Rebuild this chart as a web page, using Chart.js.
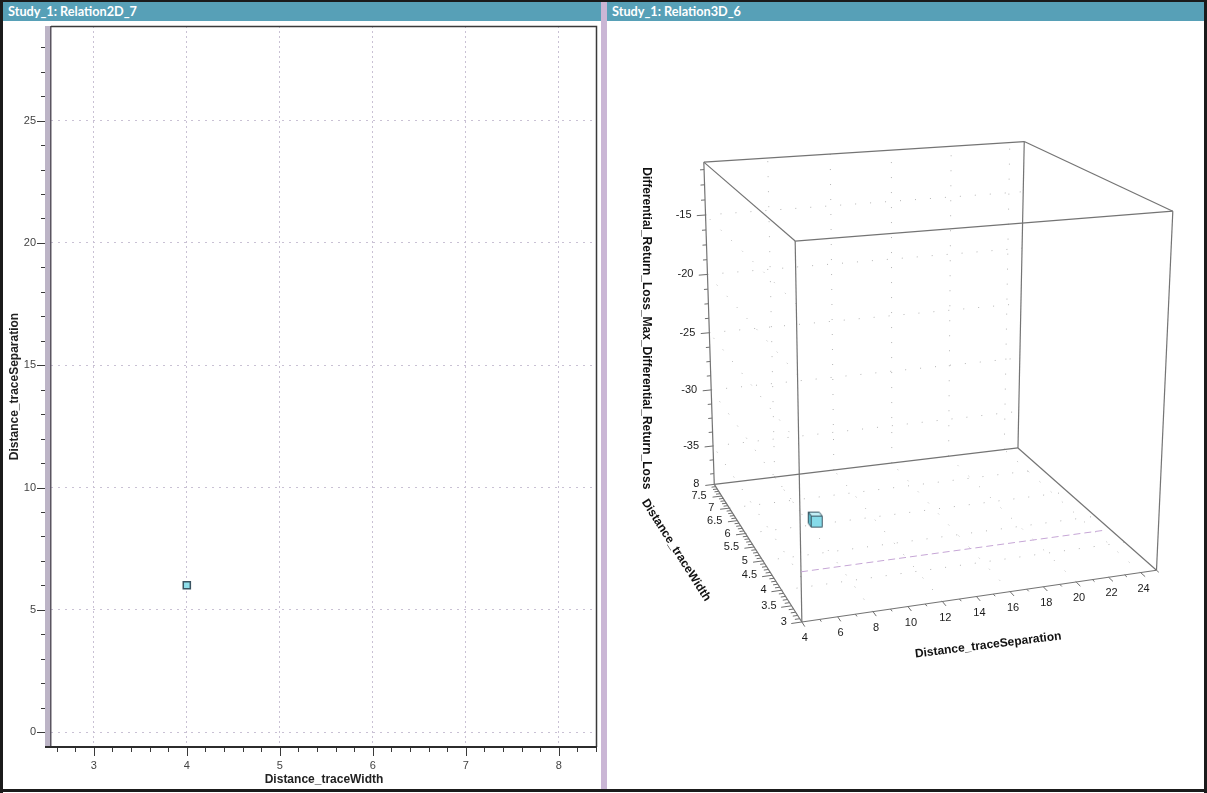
<!DOCTYPE html>
<html>
<head>
<meta charset="utf-8">
<title>Study_1 relations</title>
<script src="https://cdn.jsdelivr.net/npm/chart.js@4.4.1/dist/chart.umd.min.js"></script>
<style>
  html, body { margin: 0; padding: 0; background: #ffffff; }
  #frame { position: absolute; left: 0; top: 0; width: 1207px; height: 793px; background: #ffffff; overflow: hidden; }
  .edge { position: absolute; background: #1b1b1b; }
  .bar { position: absolute; top: 2px; height: 19px; background: #57a0b7; color: #ffffff;
         font: bold 12.7px Lato, "Liberation Sans", sans-serif; line-height: 19px;
         box-sizing: border-box; padding-left: 5px; white-space: nowrap; }
  #divider { position: absolute; left: 601px; top: 2px; width: 6px; height: 787px; background: #cab6d5; }
  .panel { position: absolute; top: 21px; height: 768px; }
  .panel canvas { display: block; }
</style>
</head>
<body>
<div id="frame">
  <div class="bar" style="left:3px;width:598px;">Study_1: Relation2D_7</div>
  <div class="bar" style="left:607px;width:597px;">Study_1: Relation3D_6</div>
  <div id="divider"></div>
  <div class="panel" style="left:3px;width:598px;"><canvas id="rel2d" width="598" height="768"></canvas></div>
  <div class="panel" style="left:607px;width:597px;"><canvas id="rel3d" width="597" height="768"></canvas></div>
  <div class="edge" style="left:0;top:0;width:1207px;height:2px;"></div>
  <div class="edge" style="left:0;top:0;width:3px;height:793px;"></div>
  <div class="edge" style="left:1204px;top:0;width:3px;height:793px;"></div>
  <div class="edge" style="left:0;top:789px;width:1207px;height:3px;"></div>
</div>
<script>
// ---- Relation2D_7 : Distance_traceWidth vs Distance_traceSeparation ----
const traceWidth = [4];
const traceSeparation = [6];
const widthTicks2d = [3, 4, 5, 6, 7, 8];
const separationTicks2d = [0, 5, 10, 15, 20, 25];
const widthRange2d = [2.54, 8.41];
const separationRange2d = [-0.61, 28.87];

// ---- Relation3D_6 : traceSeparation x traceWidth x return loss ----
const returnLoss = [-33.2];
const separationRange3d = [4, 25];
const widthRange3d = [3, 8];
const returnLossRange3d = [-38.48, -10.64];
const separationTicks3d = [4, 6, 8, 10, 12, 14, 16, 18, 20, 22, 24];
const widthTicks3d = [3, 3.5, 4, 4.5, 5, 5.5, 6, 6.5, 7, 7.5, 8];
const returnLossTicks3d = [-35, -30, -25, -20, -15];
const floorGridWidths = [4, 5, 6, 7];
const wallGridSeparations = [8, 12, 16, 20, 24];
// highlighted level line on the front face
const levelLine = { separation: [4, 21.7], width: 3, loss: -34.6 };

const FONT = '"Liberation Sans", Arial, sans-serif';

// ================= 2D scatter =================
const axes2d = {
  id: 'axes2d',
  afterDraw(chart) {
    const { ctx, chartArea: a, scales: { x, y } } = chart;
    ctx.save();
    // left axis bar
    ctx.fillStyle = '#bcb4c6';
    ctx.fillRect(a.left - 6, a.top, 6, a.bottom - a.top + 1);
    ctx.fillStyle = '#5a5560';
    ctx.fillRect(a.left - 1, a.top, 1.5, a.bottom - a.top);
    // top and right frame
    ctx.strokeStyle = '#3a3a3a';
    ctx.lineWidth = 1.5;
    ctx.beginPath();
    ctx.moveTo(a.left, a.top + 0.5);
    ctx.lineTo(a.right - 0.5, a.top + 0.5);
    ctx.lineTo(a.right - 0.5, a.bottom);
    ctx.stroke();
    // bottom axis line
    ctx.fillStyle = '#2c2c2c';
    ctx.fillRect(a.left - 6, a.bottom - 1, a.right - a.left + 6, 2);

    ctx.strokeStyle = '#3a3a3a';
    ctx.lineWidth = 1;
    // y ticks, every unit
    for (let v = Math.ceil(y.min); v <= y.max; v++) {
      const py = Math.round(y.getPixelForValue(v)) + 0.5;
      const major = separationTicks2d.includes(v);
      ctx.beginPath();
      ctx.moveTo(a.left - 6 - (major ? 8 : 4), py);
      ctx.lineTo(a.left - 6, py);
      ctx.stroke();
    }
    // x ticks, every 0.2
    for (let k = Math.ceil(x.min * 5); k <= x.max * 5; k++) {
      const v = k / 5;
      const px = Math.round(x.getPixelForValue(v)) + 0.5;
      const major = k % 5 === 0;
      ctx.beginPath();
      ctx.moveTo(px, a.bottom + 1);
      ctx.lineTo(px, a.bottom + 1 + (major ? 8 : 4));
      ctx.stroke();
    }
    // tick labels
    ctx.fillStyle = '#444444';
    ctx.font = '11px ' + FONT;
    ctx.textAlign = 'right';
    ctx.textBaseline = 'middle';
    separationTicks2d.forEach(v => ctx.fillText(String(v), a.left - 15, y.getPixelForValue(v)));
    ctx.textAlign = 'center';
    widthTicks2d.forEach(v => ctx.fillText(String(v), x.getPixelForValue(v), a.bottom + 19));
    // axis titles
    ctx.fillStyle = '#222222';
    ctx.font = 'bold 12px ' + FONT;
    ctx.fillText('Distance_traceWidth', (a.left + a.right) / 2, a.bottom + 33);
    ctx.translate(12, (a.top + a.bottom) / 2);
    ctx.rotate(-Math.PI / 2);
    ctx.fillText('Distance_traceSeparation', 0, 0);
    ctx.restore();
  }
};

new Chart(document.getElementById('rel2d'), {
  type: 'scatter',
  data: {
    datasets: [{
      label: 'Relation2D_7',
      data: traceWidth.map((w, i) => ({ x: w, y: traceSeparation[i] })),
      pointStyle: 'rect',
      pointRadius: 5,
      backgroundColor: '#8fdfeb',
      borderColor: '#3b5462',
      borderWidth: 1.5
    }]
  },
  options: {
    responsive: false,
    animation: false,
    events: [],
    layout: { autoPadding: false, padding: { left: 48, right: 4, top: 5, bottom: 42 } },
    plugins: { legend: { display: false }, tooltip: { enabled: false } },
    scales: {
      x: {
        type: 'linear', min: widthRange2d[0], max: widthRange2d[1],
        afterBuildTicks: s => { s.ticks = widthTicks2d.map(v => ({ value: v })); },
        ticks: { display: false },
        grid: { color: '#c9c1d4', lineWidth: 1, drawTicks: false },
        border: { display: false, dash: [2, 3] }
      },
      y: {
        type: 'linear', min: separationRange2d[0], max: separationRange2d[1],
        afterBuildTicks: s => { s.ticks = separationTicks2d.map(v => ({ value: v })); },
        ticks: { display: false },
        grid: { color: '#c9c1d4', lineWidth: 1, drawTicks: false },
        border: { display: false, dash: [2, 5] }
      }
    }
  },
  plugins: [axes2d]
});

// ================= 3D relation =================
// perspective camera, box normalised to a unit cube centred at the origin
const camera = { yaw: 18.5, pitch: 17, eye: [-1.586, -4.535, 1.533], focal: 1796, cx: 293, cy: 317 };
const rad = Math.PI / 180;
const viewDir = [Math.sin(camera.yaw * rad), Math.cos(camera.yaw * rad), 0];
const camRight = [Math.cos(camera.yaw * rad), -Math.sin(camera.yaw * rad), 0];
const cp = Math.cos(camera.pitch * rad), sp = Math.sin(camera.pitch * rad);
const camFwd = [cp * viewDir[0], cp * viewDir[1], -sp];
const camUp = [sp * viewDir[0], sp * viewDir[1], cp];
const dot = (a, b) => a[0] * b[0] + a[1] * b[1] + a[2] * b[2];
const ranges3d = [separationRange3d, widthRange3d, returnLossRange3d];

function toBox(s, w, z) {
  return [s, w, z].map((v, i) => (v - ranges3d[i][0]) / (ranges3d[i][1] - ranges3d[i][0]) - 0.5);
}
function projectBox(p) {
  const q = [p[0] - camera.eye[0], p[1] - camera.eye[1], p[2] - camera.eye[2]];
  const depth = dot(q, camFwd);
  return { x: dot(q, camRight) / depth, y: dot(q, camUp) / depth };
}
const project = (s, w, z) => projectBox(toBox(s, w, z));

function segment(p, q, style) {
  return Object.assign({ data: [project(...p), project(...q)], showLine: true, pointRadius: 0,
    fill: false, tension: 0 }, style);
}

const [sMin, sMax] = separationRange3d, [wMin, wMax] = widthRange3d, [zMin, zMax] = returnLossRange3d;
const datasets3d = [];

// the data point, drawn as a small shaded cube
function cubeGlyph() {
  const c = document.createElement('canvas');
  c.width = 17; c.height = 18;
  const g = c.getContext('2d');
  g.lineWidth = 1;
  g.strokeStyle = '#3a5663';
  const face = (pts, fill) => {
    g.beginPath();
    g.moveTo(pts[0][0], pts[0][1]);
    pts.slice(1).forEach(p => g.lineTo(p[0], p[1]));
    g.closePath();
    g.fillStyle = fill;
    g.fill();
    g.stroke();
  };
  face([[4.5, 5.5], [1.5, 1.5], [12.5, 1.5], [15.5, 5.5]], '#c2eff6');
  face([[4.5, 5.5], [1.5, 1.5], [1.5, 12.5], [4.5, 16.5]], '#5fbccc');
  face([[4.5, 5.5], [15.5, 5.5], [15.5, 16.5], [4.5, 16.5]], '#86dbe9');
  return c;
}
datasets3d.push({
  label: 'Relation3D_6',
  data: traceSeparation.map((s, i) => project(s, traceWidth[i], returnLoss[i])),
  pointStyle: cubeGlyph(),
  pointRadius: 8,
  showLine: false,
  order: 0
});

// box edges
const edgeStyle = { borderColor: '#747474', borderWidth: 1.2, order: 2 };
for (let axis = 0; axis < 3; axis++) {
  const others = [0, 1, 2].filter(a => a !== axis);
  for (let i = 0; i < 2; i++) {
    for (let j = 0; j < 2; j++) {
      const p = [], q = [];
      p[axis] = ranges3d[axis][0];
      q[axis] = ranges3d[axis][1];
      p[others[0]] = q[others[0]] = ranges3d[others[0]][i];
      p[others[1]] = q[others[1]] = ranges3d[others[1]][j];
      datasets3d.push(segment(p, q, edgeStyle));
    }
  }
}

// sparse dotted grids on the back walls and the floor
const gridStyle = { borderColor: '#b4b4b4', borderWidth: 1, borderDash: [1, 14], order: 3 };
returnLossTicks3d.forEach(z => {
  datasets3d.push(segment([sMin, wMin, z], [sMin, wMax, z], gridStyle));
  datasets3d.push(segment([sMin, wMax, z], [sMax, wMax, z], gridStyle));
});
floorGridWidths.forEach(w => {
  datasets3d.push(segment([sMin, w, zMin], [sMax, w, zMin], gridStyle));
});
wallGridSeparations.forEach(s => {
  datasets3d.push(segment([s, wMin, zMin], [s, wMax, zMin], gridStyle));
  datasets3d.push(segment([s, wMax, zMin], [s, wMax, zMax], gridStyle));
});
datasets3d.push(segment(
  [levelLine.separation[0], levelLine.width, levelLine.loss],
  [levelLine.separation[1], levelLine.width, levelLine.loss],
  { borderColor: '#c6a6d6', borderWidth: 1, borderDash: [7, 4], order: 1 }));

const axes3d = {
  id: 'axes3d',
  afterDraw(chart) {
    const { ctx, scales: { x, y } } = chart;
    const px = p => [x.getPixelForValue(p.x), y.getPixelForValue(p.y)];
    const at = (s, w, z) => px(project(s, w, z));
    const tickAt = (boxPt, dir, len) => {
      const a = px(projectBox(boxPt));
      const b = px(projectBox([boxPt[0] + dir[0] * len, boxPt[1] + dir[1] * len, boxPt[2] + dir[2] * len]));
      ctx.beginPath();
      ctx.moveTo(a[0], a[1]);
      ctx.lineTo(b[0], b[1]);
      ctx.stroke();
      return a;
    };
    ctx.save();
    ctx.strokeStyle = '#6e6e6e';
    ctx.lineWidth = 1;
    // separation ticks (front bottom edge)
    for (let s = sMin; s <= sMax; s++) {
      tickAt(toBox(s, wMin, zMin), [0, -1, 0], separationTicks3d.includes(s) ? 0.028 : 0.014);
    }
    // width ticks (left bottom edge)
    for (let k = wMin * 10; k <= wMax * 10; k++) {
      tickAt(toBox(sMin, k / 10, zMin), [-1, 0, 0], k % 5 === 0 ? 0.028 : 0.013);
    }
    // loss ticks (back left vertical edge)
    for (let k = Math.ceil(zMin / 1.25); k * 1.25 <= zMax; k++) {
      const z = k * 1.25;
      tickAt(toBox(sMin, wMax, z), [-1, 0, 0], z % 5 === 0 ? 0.026 : 0.012);
    }

    ctx.fillStyle = '#1c1c1c';
    ctx.font = '11px ' + FONT;
    ctx.textBaseline = 'middle';
    ctx.textAlign = 'center';
    separationTicks3d.forEach(s => { const p = at(s, wMin, zMin); ctx.fillText(String(s), p[0] + 3, p[1] + 16); });
    ctx.textAlign = 'right';
    widthTicks3d.forEach(w => { const p = at(sMin, w, zMin); ctx.fillText(String(w), p[0] - 15, p[1]); });
    returnLossTicks3d.forEach(z => { const p = at(sMin, wMax, z); ctx.fillText(String(z), p[0] - 14, p[1]); });

    // axis titles
    ctx.fillStyle = '#111111';
    ctx.textAlign = 'center';
    const title = (text, font, cxp, cyp, angle) => {
      ctx.save();
      ctx.font = font;
      ctx.translate(cxp, cyp);
      ctx.rotate(angle);
      ctx.fillText(text, 0, 0);
      ctx.restore();
    };
    const s0 = at(sMin, wMin, zMin), s1 = at(sMax, wMin, zMin);
    title('Distance_traceSeparation', 'bold 12px ' + FONT,
      (s0[0] + s1[0]) / 2 + 9, (s0[1] + s1[1]) / 2 + 49, Math.atan2(s1[1] - s0[1], s1[0] - s0[0]) * 0.85);
    const w0 = at(sMin, wMax, zMin), w1 = at(sMin, wMin, zMin);
    title('Distance_traceWidth', 'bold 12px ' + FONT,
      (w0[0] + w1[0]) / 2 - 82, (w0[1] + w1[1]) / 2 - 3, Math.atan2(w1[1] - w0[1], w1[0] - w0[0]));
    const z0 = at(sMin, wMax, zMin), z1 = at(sMin, wMax, zMax);
    title('Differential_Return_Loss_Max_Differential_Return_Loss', 'bold 12px ' + FONT,
      (z0[0] + z1[0]) / 2 - 63, (z0[1] + z1[1]) / 2 + 5, Math.PI / 2);
    ctx.restore();
  }
};

const canvas3d = document.getElementById('rel3d');
new Chart(canvas3d, {
  type: 'scatter',
  data: { datasets: datasets3d },
  options: {
    responsive: false,
    animation: false,
    events: [],
    layout: { autoPadding: false, padding: 0 },
    plugins: { legend: { display: false }, tooltip: { enabled: false } },
    scales: {
      x: { type: 'linear', display: false,
           min: -camera.cx / camera.focal, max: (canvas3d.width - camera.cx) / camera.focal },
      y: { type: 'linear', display: false,
           min: -(canvas3d.height - camera.cy) / camera.focal, max: camera.cy / camera.focal }
    }
  },
  plugins: [axes3d]
});
</script>
</body>
</html>
